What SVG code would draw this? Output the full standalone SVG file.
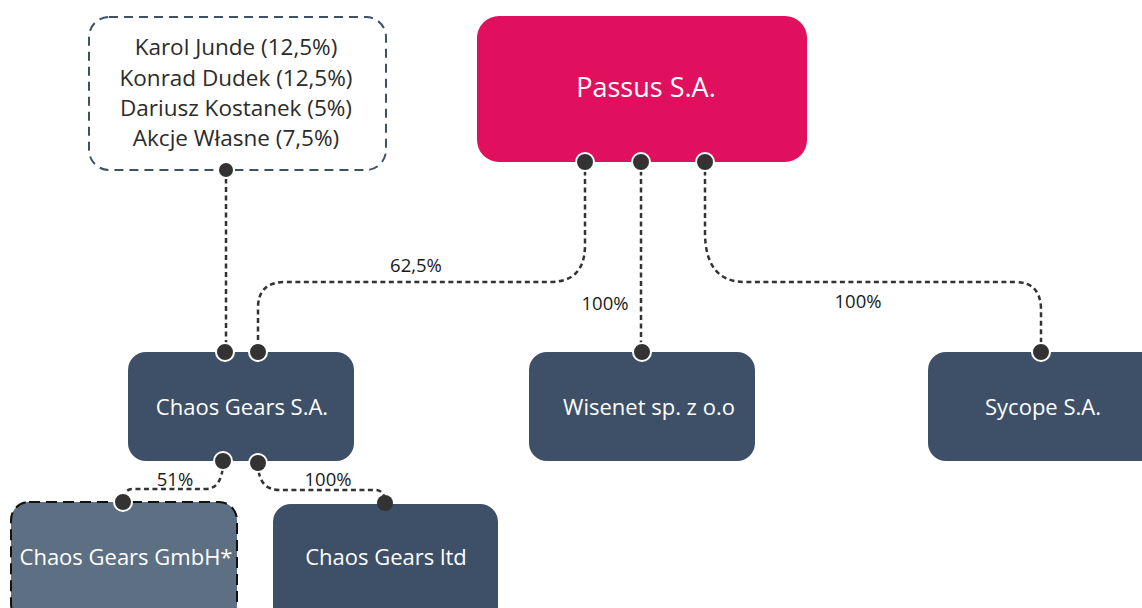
<svg xmlns="http://www.w3.org/2000/svg" width="1142" height="608" viewBox="0 0 1142 608">
<style>
.box{fill:#3d5068}
.t{font-family:"Open Sans","Liberation Sans",sans-serif;fill:#fff;text-anchor:middle;dominant-baseline:central}
.lbl{font-family:"Open Sans","Liberation Sans",sans-serif;fill:#1a1a1a;text-anchor:middle;font-size:18.5px;dominant-baseline:central}
.sh{font-family:"Open Sans","Liberation Sans",sans-serif;fill:#2b2b2b;text-anchor:middle;font-size:22.5px;dominant-baseline:central}
.c{fill:none;stroke:#333;stroke-width:2.5;stroke-dasharray:5 3.5}
.dot{fill:#333;stroke:#fff;stroke-width:2}
</style>
<rect width="1142" height="608" fill="#fff"/>
<g id="connectors">
<path class="c" d="M226,170 V352"/>
<path class="c" d="M585,162 V245 Q585,282 550,282 H285 Q258,282 258,308 V352"/>
<path class="c" d="M641,162 V352"/>
<path class="c" d="M705,162 V232 Q705,282 745,282 H1015 Q1041,282 1041,310 V352"/>
<path class="c" d="M223,461 Q223,489 205,489 H133 Q123,489 123,502"/>
<path class="c" d="M258,463 Q258,490 280,490 H375 Q385,490 385,503"/>
<text class="lbl" x="416" y="264">62,5%</text>
<text class="lbl" x="605" y="302">100%</text>
<text class="lbl" x="858" y="300">100%</text>
<text class="lbl" x="175" y="478">51%</text>
<text class="lbl" x="328" y="478">100%</text>
</g>
<g id="shareholders">
<rect x="89" y="17" width="297" height="153" rx="20" fill="#fff" stroke="#3d5068" stroke-width="2" stroke-dasharray="9 6"/>
<text class="sh" x="236" y="46">Karol Junde (12,5%)</text>
<text class="sh" x="236" y="77">Konrad Dudek (12,5%)</text>
<text class="sh" x="236" y="107">Dariusz Kostanek (5%)</text>
<text class="sh" x="236" y="137">Akcje Własne (7,5%)</text>
<circle class="dot" cx="226" cy="170" r="8"/>
</g>
<g id="passus">
<rect x="477" y="16" width="330" height="146" rx="22" fill="#e0105f"/>
<text class="t" x="646" y="86" font-size="27">Passus S.A.</text>
<circle class="dot" cx="585" cy="162" r="9"/>
<circle class="dot" cx="641" cy="162" r="9"/>
<circle class="dot" cx="705" cy="162" r="9"/>
</g>
<g id="chaos-gears-sa">
<rect class="box" x="128" y="352" width="226" height="109" rx="18"/>
<text class="t" x="242" y="406" font-size="22">Chaos Gears S.A.</text>
<circle class="dot" cx="225" cy="352" r="9"/>
<circle class="dot" cx="258" cy="352" r="9"/>
<circle class="dot" cx="223" cy="461" r="9"/>
<circle class="dot" cx="258" cy="463" r="9"/>
</g>
<g id="wisenet">
<rect class="box" x="529" y="352" width="226" height="109" rx="18"/>
<text class="t" x="649" y="406" font-size="22">Wisenet sp. z o.o</text>
<circle class="dot" cx="642" cy="352" r="9"/>
</g>
<g id="sycope">
<rect class="box" x="928" y="352" width="240" height="109" rx="18"/>
<text class="t" x="1043" y="406" font-size="22">Sycope S.A.</text>
<circle class="dot" cx="1041" cy="352" r="9"/>
</g>
<g id="chaos-gears-gmbh">
<rect x="11" y="502" width="226" height="120" rx="18" fill="#5d6f82" stroke="#111" stroke-width="2" stroke-dasharray="11 6"/>
<text class="t" x="126" y="556" font-size="22">Chaos Gears GmbH*</text>
<circle class="dot" cx="123" cy="502" r="9"/>
</g>
<g id="chaos-gears-ltd">
<rect class="box" x="273" y="504" width="225" height="120" rx="18"/>
<text class="t" x="386" y="556" font-size="22">Chaos Gears ltd</text>
<circle fill="#333" cx="385" cy="503" r="8"/>
</g>
</svg>
